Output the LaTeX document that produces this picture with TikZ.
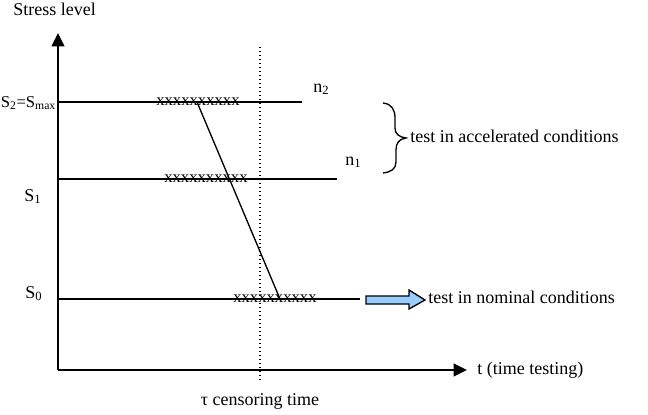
\documentclass[tikz,border=0pt]{standalone}
\usepackage{fontspec}
\setmainfont{Liberation Serif}
\usetikzlibrary{arrows.meta,calc}
\definecolor{arrowblue}{RGB}{153,204,255}

\tikzset{
  lbl/.style={inner sep=0pt,anchor=base west,font=\fontsize{13.5}{16}\selectfont},
  level/.style={line width=2pt},
  fails/.style={lbl,font=\fontsize{12.5}{14}\selectfont}
}

\begin{document}
\begin{tikzpicture}[x=0.75pt,y=-0.75pt,>={Triangle[length=10pt,width=9.5pt]}]
    \useasboundingbox (0,0) rectangle (648,414);
    % Axes
    \coordinate (O) at (58,370);
    \coordinate (Ytop) at (58,33);
    \coordinate (Xend) at (467,370);
    \draw[->,line width=1.5pt] (O) -- (Ytop);
    \draw[->,line width=1.5pt] (O) -- (Xend);
    \node[lbl] (ylab) at (13,15) {Stress level};
    \node[lbl] (xlab) at (477,374) {t (time testing)};

    % Censoring time
    \coordinate (Ctop) at (260,47);
    \coordinate (Cbot) at (260,380);
    \draw[dotted,line width=1pt] (Ctop) -- (Cbot);
    \node[lbl,anchor=base] (tau) at (260,405) {τ censoring time};

    % Stress levels
    \coordinate (L2) at (302,102);
    \coordinate (L1) at (337,179);
    \coordinate (L0) at (360,299);
    \draw[level] (O|-L2) -- (L2);
    \draw[level] (O|-L1) -- (L1);
    \draw[level] (O|-L0) -- (L0);
    \node[lbl,font=\fontsize{12.5}{15}\selectfont] (s2) at (0.5,107) {S\textsubscript{2}=S\textsubscript{max}};
    \node[lbl] (s1) at (24,201) {S\textsubscript{1}};
    \node[lbl] (s0) at (25,298) {S\textsubscript{0}};
    \node[lbl] (n2) at (313,92) {n\textsubscript{2}};
    \node[lbl] (n1) at (345,165) {n\textsubscript{1}};

    % Failures
    \node[fails] (f2) at (156,105.5) {xxxxxxxxxx};
    \node[fails] (f1) at (164,182.5) {xxxxxxxxxx};
    \node[fails] (f0) at (233,302.5) {xxxxxxxxxx};
    \coordinate (D2) at (197,102);
    \coordinate (D0) at (280,299);
    \draw[line width=1pt] (D2) -- (D0);

    % Accelerated tests
    \draw[line width=1pt] (383,103) .. controls (392,104) and (395,110) .. (395,118)
        -- (395,128) .. controls (395,134) and (399,137) .. (406,138)
        .. controls (399,139) and (396,143) .. (396,150)
        -- (396,162) .. controls (396,169) and (391,172) .. (383,173);
    \node[lbl] (acc) at (410,142) {test in accelerated conditions};

    % Nominal test
    \draw[fill=arrowblue,line width=1pt] (366,296) -- (409,296) -- (409,290) -- (425,300)
        -- (409,309) -- (409,304) -- (366,304) -- cycle;
    \node[lbl] (nom) at (428,303) {test in nominal conditions};
\end{tikzpicture}
\end{document}
